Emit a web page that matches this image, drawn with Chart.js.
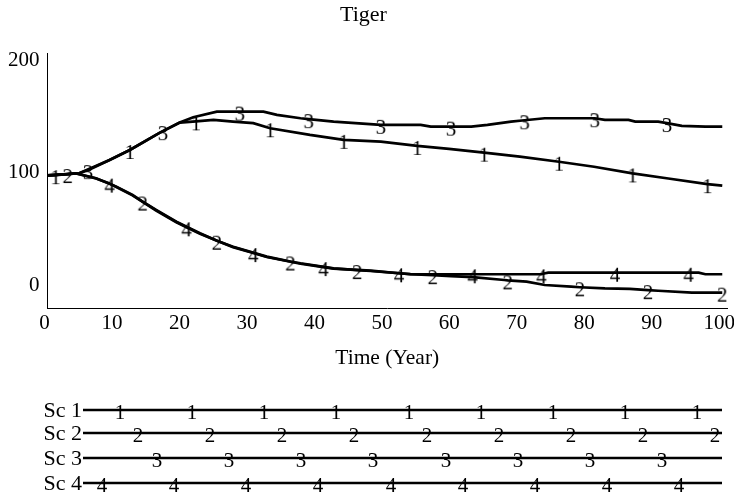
<!DOCTYPE html>
<html>
<head>
<meta charset="utf-8">
<title>Tiger</title>
<script src="https://cdn.jsdelivr.net/npm/chart.js@4.4.1/dist/chart.umd.min.js"></script>
<style>
  html, body { margin: 0; padding: 0; background: #fff; }
</style>
</head>
<body>
<canvas id="tiger-chart" width="734" height="496"></canvas>
<script>
// Tiger population by scenario, [year, value]
const sc1 = [[0, 97.8], [1.2, 98], [4.7, 99.7], [9.2, 111.6], [12.2, 120.5], [16.6, 135.7], [19.6, 144.9],
  [22, 146], [24.6, 147.3], [27.5, 145.8], [30.5, 144.4], [33, 139.9], [38.9, 133.9], [43.9, 129.5],
  [49.4, 128], [54.8, 124.1], [59.5, 121.5], [64.7, 118.1], [70, 114.5], [75.8, 110], [81, 105.5],
  [86.7, 99.6], [92, 95], [97.8, 90], [100, 88.7]];
const sc2 = [[0, 97.8], [3, 99], [4.2, 99.7], [7.2, 95.3], [10.2, 87.8], [12.6, 80.4], [14.1, 74.5],
  [16.1, 67], [19.1, 56.5], [22.6, 46.2], [25.1, 39.5], [27.5, 34.2], [32.5, 25.3], [36, 21], [37.5, 19.4],
  [42.4, 14.9], [45.9, 13.3], [47.9, 12.5], [53.8, 9.8], [57.1, 8.8], [59.8, 8], [63, 7], [67.7, 4.5],
  [68.2, 4.2], [71, 3], [73.7, 0], [77.6, -1.5], [78.9, -2], [82.6, -3], [86.3, -3.5], [89, -4.6],
  [90.5, -5.1], [95.5, -6.8], [100, -6.8]];
const sc3 = [[0, 97.8], [4.7, 99.7], [6, 102.5], [9.2, 111.6], [12.2, 120.5], [16.6, 135.7], [17.1, 137.3],
  [19.6, 144.9], [21.6, 149.7], [25.1, 154.7], [28.5, 154.7], [32, 154.7], [34, 151.8], [37.5, 148.8],
  [38.7, 148], [42.4, 145.8], [49.4, 142.9], [55.3, 142.9], [56.8, 141.3], [59.8, 141.3], [62.8, 141.3],
  [65.2, 142.9], [68.7, 145.8], [70.7, 147], [73.7, 148.8], [81.1, 148.8], [82.6, 147.3], [86.1, 147.3],
  [87.1, 145.8], [90.5, 145.8], [91.8, 144.5], [94, 142], [97.5, 141.3], [100, 141.3]];
const sc4 = [[0, 97.8], [4.2, 99.5], [7.2, 95], [9.2, 90.5], [10.2, 87.5], [12.6, 80], [16.1, 66.5],
  [19.1, 56], [20.6, 51.5], [22.6, 45.8], [27.5, 33.8], [30.5, 28.5], [32.5, 25], [37.5, 19], [40.9, 16],
  [42.4, 14.6], [47.9, 12.8], [52.1, 10.5], [53.8, 9.6], [63, 9.6], [73.2, 9.6], [73.6, 10.3], [74.2, 11],
  [84.1, 11], [95, 11], [96.5, 11], [97.5, 9.6], [100, 9.6]];

// years where the scenario number is printed on its line
const sc1Marks = [1.2, 12.2, 22, 33, 43.9, 54.8, 64.7, 75.8, 86.7, 97.8];
const sc2Marks = [3, 14.1, 25.1, 36, 45.9, 57.1, 68.2, 78.9, 89, 100];
const sc3Marks = [6, 17.1, 28.5, 38.7, 49.4, 59.8, 70.7, 81.1, 91.8];
const sc4Marks = [9.2, 20.6, 30.5, 40.9, 52.1, 63, 73.2, 84.1, 95];

const seriesNames = ['Sc 1', 'Sc 2', 'Sc 3', 'Sc 4'];
const xTickValues = [0, 10, 20, 30, 40, 50, 60, 70, 80, 90, 100];
const yTickValues = [0, 100, 200];

const FONT = '"Liberation Serif", "Times New Roman", serif';
const series = [sc1, sc2, sc3, sc4];
const marks = [sc1Marks, sc2Marks, sc3Marks, sc4Marks];

// the little number glyph used as point marker
function digitImage(d) {
    const c = document.createElement('canvas');
    c.width = 16;
    c.height = 28;
    const g = c.getContext('2d');
    g.font = '21px ' + FONT;
    g.textAlign = 'center';
    g.textBaseline = 'alphabetic';
    g.fillStyle = '#000';
    g.fillText(String(d), 8, 23);
    return c;
}
const digits = seriesNames.map((_, i) => digitImage(i + 1));

// Vensim style legend: one long line per scenario with its number repeated
const scLegend = {
    id: 'scLegend',
    afterDraw(chart) {
        const ctx = chart.ctx;
        const rows = [410, 433, 458, 483];
        const first = [120, 138, 157, 102];
        const count = [9, 9, 8, 9];
        const step = 72.15;
        ctx.save();
        ctx.fillStyle = '#000';
        ctx.strokeStyle = '#000';
        ctx.lineWidth = 2.7;
        ctx.font = '22px ' + FONT;
        ctx.textAlign = 'right';
        ctx.textBaseline = 'middle';
        rows.forEach((y, i) => {
            ctx.fillText(seriesNames[i], 82, y + 1);
            ctx.beginPath();
            ctx.moveTo(83, y);
            ctx.lineTo(722, y);
            ctx.stroke();
            for (let k = 0; k < count[i]; k++) {
                const x = first[i] + k * step;
                ctx.drawImage(digits[i], Math.round(x - 8), y - 14);
            }
        });
        ctx.restore();
    }
};

const tigerCtx = document.getElementById('tiger-chart').getContext('2d');
new Chart(tigerCtx, {
    type: 'line',
    data: {
        datasets: series.map((s, i) => ({
            label: seriesNames[i],
            data: s.map(([x, y]) => ({x, y})),
            borderColor: '#000',
            backgroundColor: '#000',
            borderWidth: 2.7,
            tension: 0,
            fill: false,
            pointStyle: digits[i],
            pointRadius: c => (c.raw && marks[i].includes(c.raw.x)) ? 3 : 0,
            pointHoverRadius: 0
        }))
    },
    options: {
        responsive: false,
        animation: false,
        events: [],
        layout: {
            padding: {left: 0, right: 7, top: 0, bottom: 125}
        },
        plugins: {
            legend: {display: false},
            tooltip: {enabled: false},
            title: {
                display: true,
                text: 'Tiger',
                color: '#000',
                font: {family: FONT, size: 22, weight: 'normal'},
                padding: {top: 2, bottom: 24.6}
            }
        },
        scales: {
            x: {
                type: 'linear',
                min: 0,
                max: 100.7,
                afterBuildTicks: scale => {
                    scale.ticks = xTickValues.map(v => ({value: v}));
                },
                afterFit: scale => {
                    // let the "100" label hang past the axis end like the original
                    scale.paddingRight = 0;
                },
                grid: {display: false, drawTicks: false},
                border: {display: true, color: '#000', width: 1},
                ticks: {
                    color: '#000',
                    padding: 3,
                    labelOffset: -3,
                    maxRotation: 0,
                    font: {family: FONT, size: 21}
                },
                title: {
                    display: true,
                    text: 'Time (Year)',
                    color: '#000',
                    font: {family: FONT, size: 21.5},
                    padding: {top: 6, bottom: 0}
                }
            },
            y: {
                type: 'linear',
                min: -20.5,
                max: 207,
                afterBuildTicks: scale => {
                    scale.ticks = yTickValues.map(v => ({value: v}));
                },
                grid: {display: false, drawTicks: false},
                border: {display: true, color: '#000', width: 1},
                ticks: {
                    color: '#000',
                    padding: 8,
                    font: {family: FONT, size: 21}
                }
            }
        }
    },
    plugins: [scLegend]
});
</script>
</body>
</html>
